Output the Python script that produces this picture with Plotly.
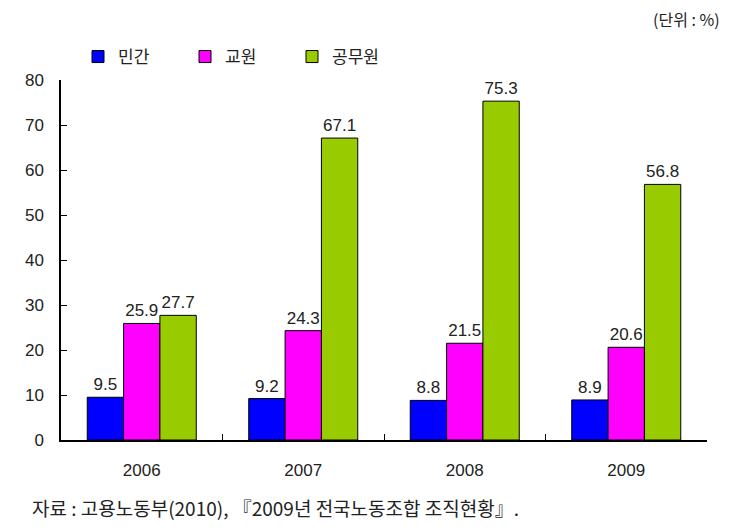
import plotly.graph_objects as go

years = ['2006', '2007', '2008', '2009']
private = [9.5, 9.2, 8.8, 8.9]
teachers = [25.9, 24.3, 21.5, 20.6]
civil = [27.7, 67.1, 75.3, 56.8]

series = [
    ('민간', private, '#0000FF'),
    ('교원', teachers, '#FF00FF'),
    ('공무원', civil, '#99CC00'),
]

fig = go.Figure()
for name, vals, color in series:
    fig.add_trace(go.Bar(
        name=name, x=years, y=vals,
        marker=dict(color=color, line=dict(color='black', width=1)),
        text=[f'{v:.1f}' for v in vals],
        textposition='outside',
        textfont=dict(size=17, color='#222', family='Arial'),
        cliponaxis=False,
    ))

# the page body has an 8px margin, so the figure is a bit smaller than the window
fig.update_layout(
    width=731, height=515,
    margin=dict(l=53, r=32, t=72, b=83),
    plot_bgcolor='white', paper_bgcolor='white',
    barmode='group', bargap=0.325, bargroupgap=0,
    font=dict(family='Arial, Noto Sans CJK KR', size=17, color='#222'),
    legend=dict(orientation='h', xref='container', yref='container',
                x=70 / 731, y=1 - 49 / 515, xanchor='left', yanchor='middle',
                font=dict(size=17, family='Noto Sans CJK KR'),
                entrywidth=62, itemwidth=30,
                traceorder='normal'),
    xaxis=dict(showline=True, linecolor='black', linewidth=1.5, automargin=False,
               ticks='inside', tickson='boundaries', ticklen=6, tickcolor='black',
               tickfont=dict(size=17), ticklabelstandoff=14),
    yaxis=dict(range=[0, 80], dtick=10, showline=True, linecolor='black', linewidth=1.5,
               ticks='inside', ticklen=6, tickcolor='black', showgrid=False, automargin=False,
               zeroline=False, tickfont=dict(size=17), ticklabelstandoff=12),
    annotations=[
        dict(text='(단위 : %)', xref='paper', yref='paper', x=1.023, y=1 + 61 / 360,
             xanchor='right', yanchor='middle', showarrow=False,
             font=dict(size=16, family='Noto Sans CJK KR', color='#222')),
        dict(text='자료 : 고용노동부(2010), 『2009년 전국노동조합 조직현황』.',
             xref='paper', yref='paper', x=-31 / 646, y=-67 / 360,
             xanchor='left', yanchor='middle', showarrow=False,
             font=dict(size=19, family='Noto Sans CJK KR', color='#222')),
    ],
)

fig.write_html('out.html')
